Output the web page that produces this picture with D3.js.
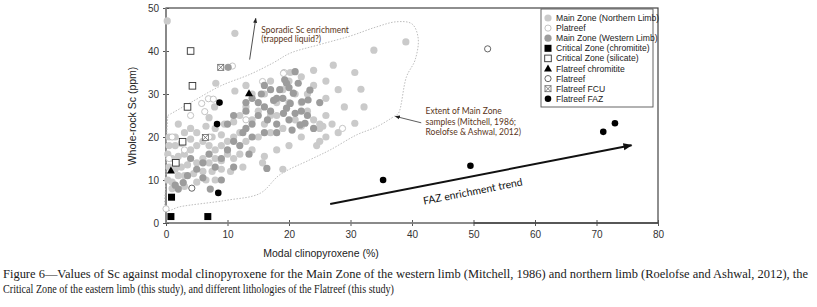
<!DOCTYPE html>
<html><head><meta charset="utf-8">
<script src="https://cdn.jsdelivr.net/npm/d3@7"></script>
<style>
html,body{margin:0;padding:0;background:#fff;}
svg{display:block;}
</style></head>
<body>
<script>
// ---------- DATA ----------
const xTicks = [0,10,20,30,40,50,60,70,80];
const yTicks = [0,10,20,30,40,50];
const xLabel = "Modal clinopyroxene (%)";
const yLabel = "Whole-rock Sc (ppm)";

const mainNorthern = [
 [0.2,47],[11.2,44.1],[8.1,32.5],[11.2,30.7],[7.9,27],
 [0.5,20],[1.5,20],[0.5,18],[1.5,18],[0.3,16],[1,15],[2,15.5],[3,16],[4,17],[5,18],[6,19],[7,18],[8,17],[9,18],[10,19],[11,20],[12,21],
 [0.5,13],[1.5,12.5],[2.5,13],[3.5,13.5],[5,14],[6,15],[7,14],[8,15],[9,14.5],[10,16],[11,15],
 [0.3,10],[1,9.5],[2,11],[3,11],[4.5,11.5],[6,12],[7.5,12],[9,12.5],[10.5,12],
 [1,8],[3,8.5],[5,9.5],[6.5,10],[8,10],
 [3,21],[4,22],[5,21],[6.5,22.5],[8,22],[9.5,23],[11,23.5],[2,23],[7,24.5],
 [4,19.5],[2.5,18.5],[9,20.5],[7.5,20],
 [12,25],[13,27],[14,24],[15,26],[16,23],[17,25],[18,28],[14,30],[13,32],[16,30],[17,33],[19,31],[20,33],[21,30],[22,28],[23,26],[24,24],[25,22],[26,25],[27,23],[28,21],[25,19],[22,20],[20,18],[18,17],[16,15.5],[14,17],[12,16],[13,19],[15,20],[17,21],[19,22],[21,24],[23,30],[24,32],[26,29],
 [27.2,36.7],[30.7,35],[31.7,31.1],[32.2,27],[30.7,23.2],[24,35.5],[26,33],[22,34],[29,27],[28,31],[20.2,35],[33.8,40.2],[39,42.1],
 [15.7,14],[19,12.5],[24.5,18],[26,20],[12.5,13],[20,28],[22,22.5],[18,25],[25,23],[25.5,22.5]
];
const mainWestern = [
 [10.1,36.2],[19.6,32.5],[19.3,33.3],[21,35.2],[20.7,30.2],[20.2,27.8],[19.6,26.7],[21,25.5],[21.8,22.8],[22.6,23.2],[20.5,21.6],[23.4,30.9],[23.1,28.6],[22.1,28.2],[19.1,25.5],
 [14,29],[15,28],[16,27],[17,26],[18,29],[17,31],[16,32],[15,25],[14,23],[13,26],[16.5,24],[18,23],[18.5,31],[17.5,28.5],[15.5,30],[19,29],[20,31.5],[21.5,32.5],[22,26],[23,25],[20,24],[18,21],[16,21],[14,20],[13,22],
 [16.4,12.7],[12,18],[13.5,16],[11,19],[10,17],[9,15],[8,13],[6,14],[5,12.5],[4,15],[7,16],[2.8,9.4],[2,7.9],[1.5,8.8],[7.2,7.9],[3.5,11],[6,10.5],[9,10],[11,13],[12.5,21],[10,23],[13,28],[11,25],[25,28],[24,22]
];
const platreef = [[10.8,36.5],[15.7,32.9],[19.2,35],[5.8,27.8],[6.9,28.9],[7.7,28.8],[6.3,25.9],[19.1,34.8],[28.7,22],[0,3.3],[1,20],[3,17],[0.5,15],[7,20],[13,24],[4,25]];
const critChromitite = [[0.9,6],[0.8,1.5],[6.8,1.5]];
const critSilicate = [[4,40],[4.3,31.9],[3.5,27],[2.7,18.9],[1.6,14]];
const flatChromitite = [[13.5,30.2],[0.8,12.2]];
const flatreef = [[4.2,8.1],[52.3,40.5]];
const flatFCU = [[8.9,36.2],[6.4,19.9]];
const flatFAZ = [[8.7,28],[8.3,23],[8.5,7],[35.3,10],[49.5,13.3],[71.1,21.2],[73,23.2]];

const envelope = [[0.3,25],[4.5,28.4],[8.9,31.9],[13.7,34.6],[17.5,37.3],[20.2,39.5],[25,41.5],[30,43.5],[34,45.5],[37.5,46.8],[40,46.3],[41,43],[40.5,37.9],[39.1,34],[37.8,25.5],[37.2,24.9],[34.3,22.4],[31,20.5],[26.7,17],[23.4,14.7],[18.5,11.2],[15.3,6.9],[9.9,5.3],[2.3,3.8],[0.1,3],[0,10],[0.1,20],[0.3,25]];

const legendLabels = ["Main Zone (Northern Limb)","Platreef","Main Zone (Western Limb)","Critical Zone (chromitite)","Critical Zone (silicate)","Flatreef chromitite","Flatreef","Flatreef FCU","Flatreef FAZ"];
const legendKeys = ["north","plat","west","cchrom","csil","fchrom","flat","fcu","faz"];

const caption = ["Figure 6\u2014Values of Sc against modal clinopyroxene for the Main Zone of the western limb (Mitchell, 1986) and northern limb (Roelofse and Ashwal, 2012), the",
 "Critical Zone of the eastern limb (this study), and different lithologies of the Flatreef (this study)"];

// ---------- DRAW ----------
const W=817,H=307;
const svg=d3.select("body").append("svg").attr("width",W).attr("height",H);
const x=d3.scaleLinear().domain([0,80]).range([166,658]);
const y=d3.scaleLinear().domain([0,50]).range([223,8]);

const defs=svg.append("defs");
function marker(id,size,color){
  defs.append("marker").attr("id",id).attr("viewBox","0 0 10 10").attr("refX",9).attr("refY",5)
   .attr("markerWidth",size).attr("markerHeight",size).attr("orient","auto-start-reverse").attr("markerUnits","userSpaceOnUse")
   .append("path").attr("d","M0,1 L10,5 L0,9 Z").attr("fill",color);
}
marker("ah",5,"#222"); marker("ahBig",9,"#111");

// frame
svg.append("rect").attr("x",x(0)).attr("y",y(50)).attr("width",x(80)-x(0)).attr("height",y(0)-y(50))
 .attr("fill","none").attr("stroke","#444").attr("stroke-width",1.2);

// axes
const gx=svg.append("g").attr("transform",`translate(0,${y(0)})`)
 .call(d3.axisBottom(x).tickValues(xTicks).tickSize(3).tickSizeOuter(0));
gx.selectAll(".tick line").attr("y1",-3).attr("stroke","#555");
gx.select(".domain").remove();
gx.selectAll("text").attr("font-family","Liberation Sans, Arial, sans-serif").attr("font-size",10).attr("fill","#333").attr("dy","0.95em").attr("y",5);
svg.append("line").attr("x1",x(0)).attr("x2",x(50)).attr("y1",y(0)).attr("y2",y(0)).attr("stroke","#888").attr("stroke-width",1.6);
svg.append("line").attr("x1",x(50)).attr("x2",x(80)).attr("y1",y(0)).attr("y2",y(0)).attr("stroke","#444").attr("stroke-width",1.6);

const gy=svg.append("g").attr("transform",`translate(${x(0)},0)`)
 .call(d3.axisLeft(y).tickValues(yTicks).tickSize(3).tickSizeOuter(0));
gy.selectAll(".tick line").attr("x1",3).attr("stroke","#555");
gy.select(".domain").remove();
gy.selectAll("text").attr("font-family","Liberation Sans, Arial, sans-serif").attr("font-size",10).attr("fill","#333").attr("x",-7);
svg.append("line").attr("x1",x(0)).attr("x2",x(0)).attr("y1",y(0)).attr("y2",y(50)).attr("stroke","#888").attr("stroke-width",1.6);

// axis labels
svg.append("text").attr("x",321).attr("y",257).attr("text-anchor","middle")
 .attr("font-family","Liberation Sans, Arial, sans-serif").attr("font-size",10.5).attr("fill","#222").text(xLabel);
svg.append("text").attr("transform","translate(136,116) rotate(-90)").attr("text-anchor","middle")
 .attr("font-family","Liberation Sans, Arial, sans-serif").attr("font-size",10.5).attr("fill","#222").text(yLabel);

// envelope
svg.append("path").attr("d",d3.line().x(d=>x(d[0])).y(d=>y(d[1])).curve(d3.curveCatmullRom)(envelope))
 .attr("fill","none").attr("stroke","#b5b5b5").attr("stroke-width",0.9).attr("stroke-dasharray","1.5,1.5");

// symbol drawing
const R=3.6;
function drawSym(g,key,px,py){
  switch(key){
   case "north": g.append("circle").attr("cx",px).attr("cy",py).attr("r",R).attr("fill","#cacaca"); break;
   case "west": g.append("circle").attr("cx",px).attr("cy",py).attr("r",R).attr("fill","#9c9c9c"); break;
   case "plat": g.append("circle").attr("cx",px).attr("cy",py).attr("r",R-0.5).attr("fill","#fff").attr("stroke","#c4c4c4").attr("stroke-width",1); break;
   case "flat": g.append("circle").attr("cx",px).attr("cy",py).attr("r",R-0.5).attr("fill","#fff").attr("stroke","#555").attr("stroke-width",0.9); break;
   case "cchrom": g.append("rect").attr("x",px-3.5).attr("y",py-3.5).attr("width",7).attr("height",7).attr("fill","#000"); break;
   case "csil": g.append("rect").attr("x",px-3.3).attr("y",py-3.3).attr("width",6.6).attr("height",6.6).attr("fill","#fff").attr("stroke","#333").attr("stroke-width",0.9); break;
   case "fchrom": g.append("path").attr("d",`M${px},${py-4} L${px+4},${py+3} L${px-4},${py+3} Z`).attr("fill","#000"); break;
   case "fcu": g.append("rect").attr("x",px-3).attr("y",py-3).attr("width",6).attr("height",6).attr("fill","#fff").attr("stroke","#666").attr("stroke-width",0.8);
     g.append("path").attr("d",`M${px-3},${py-3} L${px+3},${py+3} M${px+3},${py-3} L${px-3},${py+3}`).attr("stroke","#666").attr("stroke-width",0.8); break;
   case "faz": g.append("circle").attr("cx",px).attr("cy",py).attr("r",R-0.3).attr("fill","#000"); break;
  }
}
const series=[["north",mainNorthern],["plat",platreef],["west",mainWestern],["flat",flatreef],["csil",critSilicate],["fcu",flatFCU],["cchrom",critChromitite],["fchrom",flatChromitite],["faz",flatFAZ]];
const pg=svg.append("g");
series.forEach(([k,arr])=>arr.forEach(d=>drawSym(pg,k,x(d[0]),y(d[1]))));

// annotations
const annoFont="Lato, 'Open Sans', sans-serif";
svg.append("line").attr("x1",x(13.6)).attr("y1",y(38)).attr("x2",x(14.6)).attr("y2",y(47.6))
 .attr("stroke","#222").attr("stroke-width",0.8).attr("marker-end","url(#ah)");
const sp=svg.append("text").attr("font-family",annoFont).attr("font-size",8.5).attr("fill","#5a3520");
sp.append("tspan").attr("x",x(15.5)).attr("y",y(44.3)).text("Sporadic Sc enrichment");
sp.append("tspan").attr("x",x(15.5)).attr("y",y(42)).text("(trapped liquid?)");

svg.append("line").attr("x1",x(41.5)).attr("y1",y(23.3)).attr("x2",x(37.3)).attr("y2",y(24.8))
 .attr("stroke","#333").attr("stroke-width",0.8).attr("marker-end","url(#ah)");
const ex=svg.append("text").attr("font-family",annoFont).attr("font-size",8.5).attr("fill","#5a3520");
ex.append("tspan").attr("x",x(42.2)).attr("y",y(25.3)).text("Extent of Main Zone");
ex.append("tspan").attr("x",x(42.2)).attr("y",y(22.9)).text("samples (Mitchell, 1986;");
ex.append("tspan").attr("x",x(42.2)).attr("y",y(20.5)).text("Roelofse & Ashwal, 2012)");

// FAZ trend arrow
const a0=[26.7,4.4], a1=[75.7,18.1];
svg.append("line").attr("x1",x(a0[0])).attr("y1",y(a0[1])).attr("x2",x(a1[0])).attr("y2",y(a1[1]))
 .attr("stroke","#111").attr("stroke-width",2).attr("marker-end","url(#ahBig)");
const ang=Math.atan2(y(a1[1])-y(a0[1]),x(a1[0])-x(a0[0]))*180/Math.PI;
svg.append("text").attr("transform",`translate(${x(50)},${y(6.5)}) rotate(${ang})`).attr("text-anchor","middle")
 .attr("font-family",annoFont).attr("font-size",10.5).attr("fill","#111").text("FAZ enrichment trend");

// legend
const lg=svg.append("g");
const lx=541, ly=9, lw=112, lh=98;
lg.append("rect").attr("x",lx).attr("y",ly).attr("width",lw).attr("height",lh).attr("fill","#fff").attr("stroke","#555").attr("stroke-width",0.9);
legendKeys.forEach((k,i)=>{
  const yy=ly+9+i*10.1;
  drawSym(lg,k,lx+7,yy);
  lg.append("text").attr("x",lx+15).attr("y",yy+3).attr("font-family","Liberation Sans, Arial, sans-serif").attr("font-size",8.6).attr("fill","#222").text(legendLabels[i]);
});

// caption
caption.forEach((t,i)=>{
  const tx=svg.append("text").attr("x",3).attr("y",278+i*14.5).attr("font-family","Liberation Serif, serif").attr("font-size",11.5).attr("fill","#1a1a1a").text(t);
  if(i===0) tx.attr("textLength",805).attr("lengthAdjust","spacingAndGlyphs");
  else tx.attr("textLength",391).attr("lengthAdjust","spacingAndGlyphs");
});
</script>
</body></html>
